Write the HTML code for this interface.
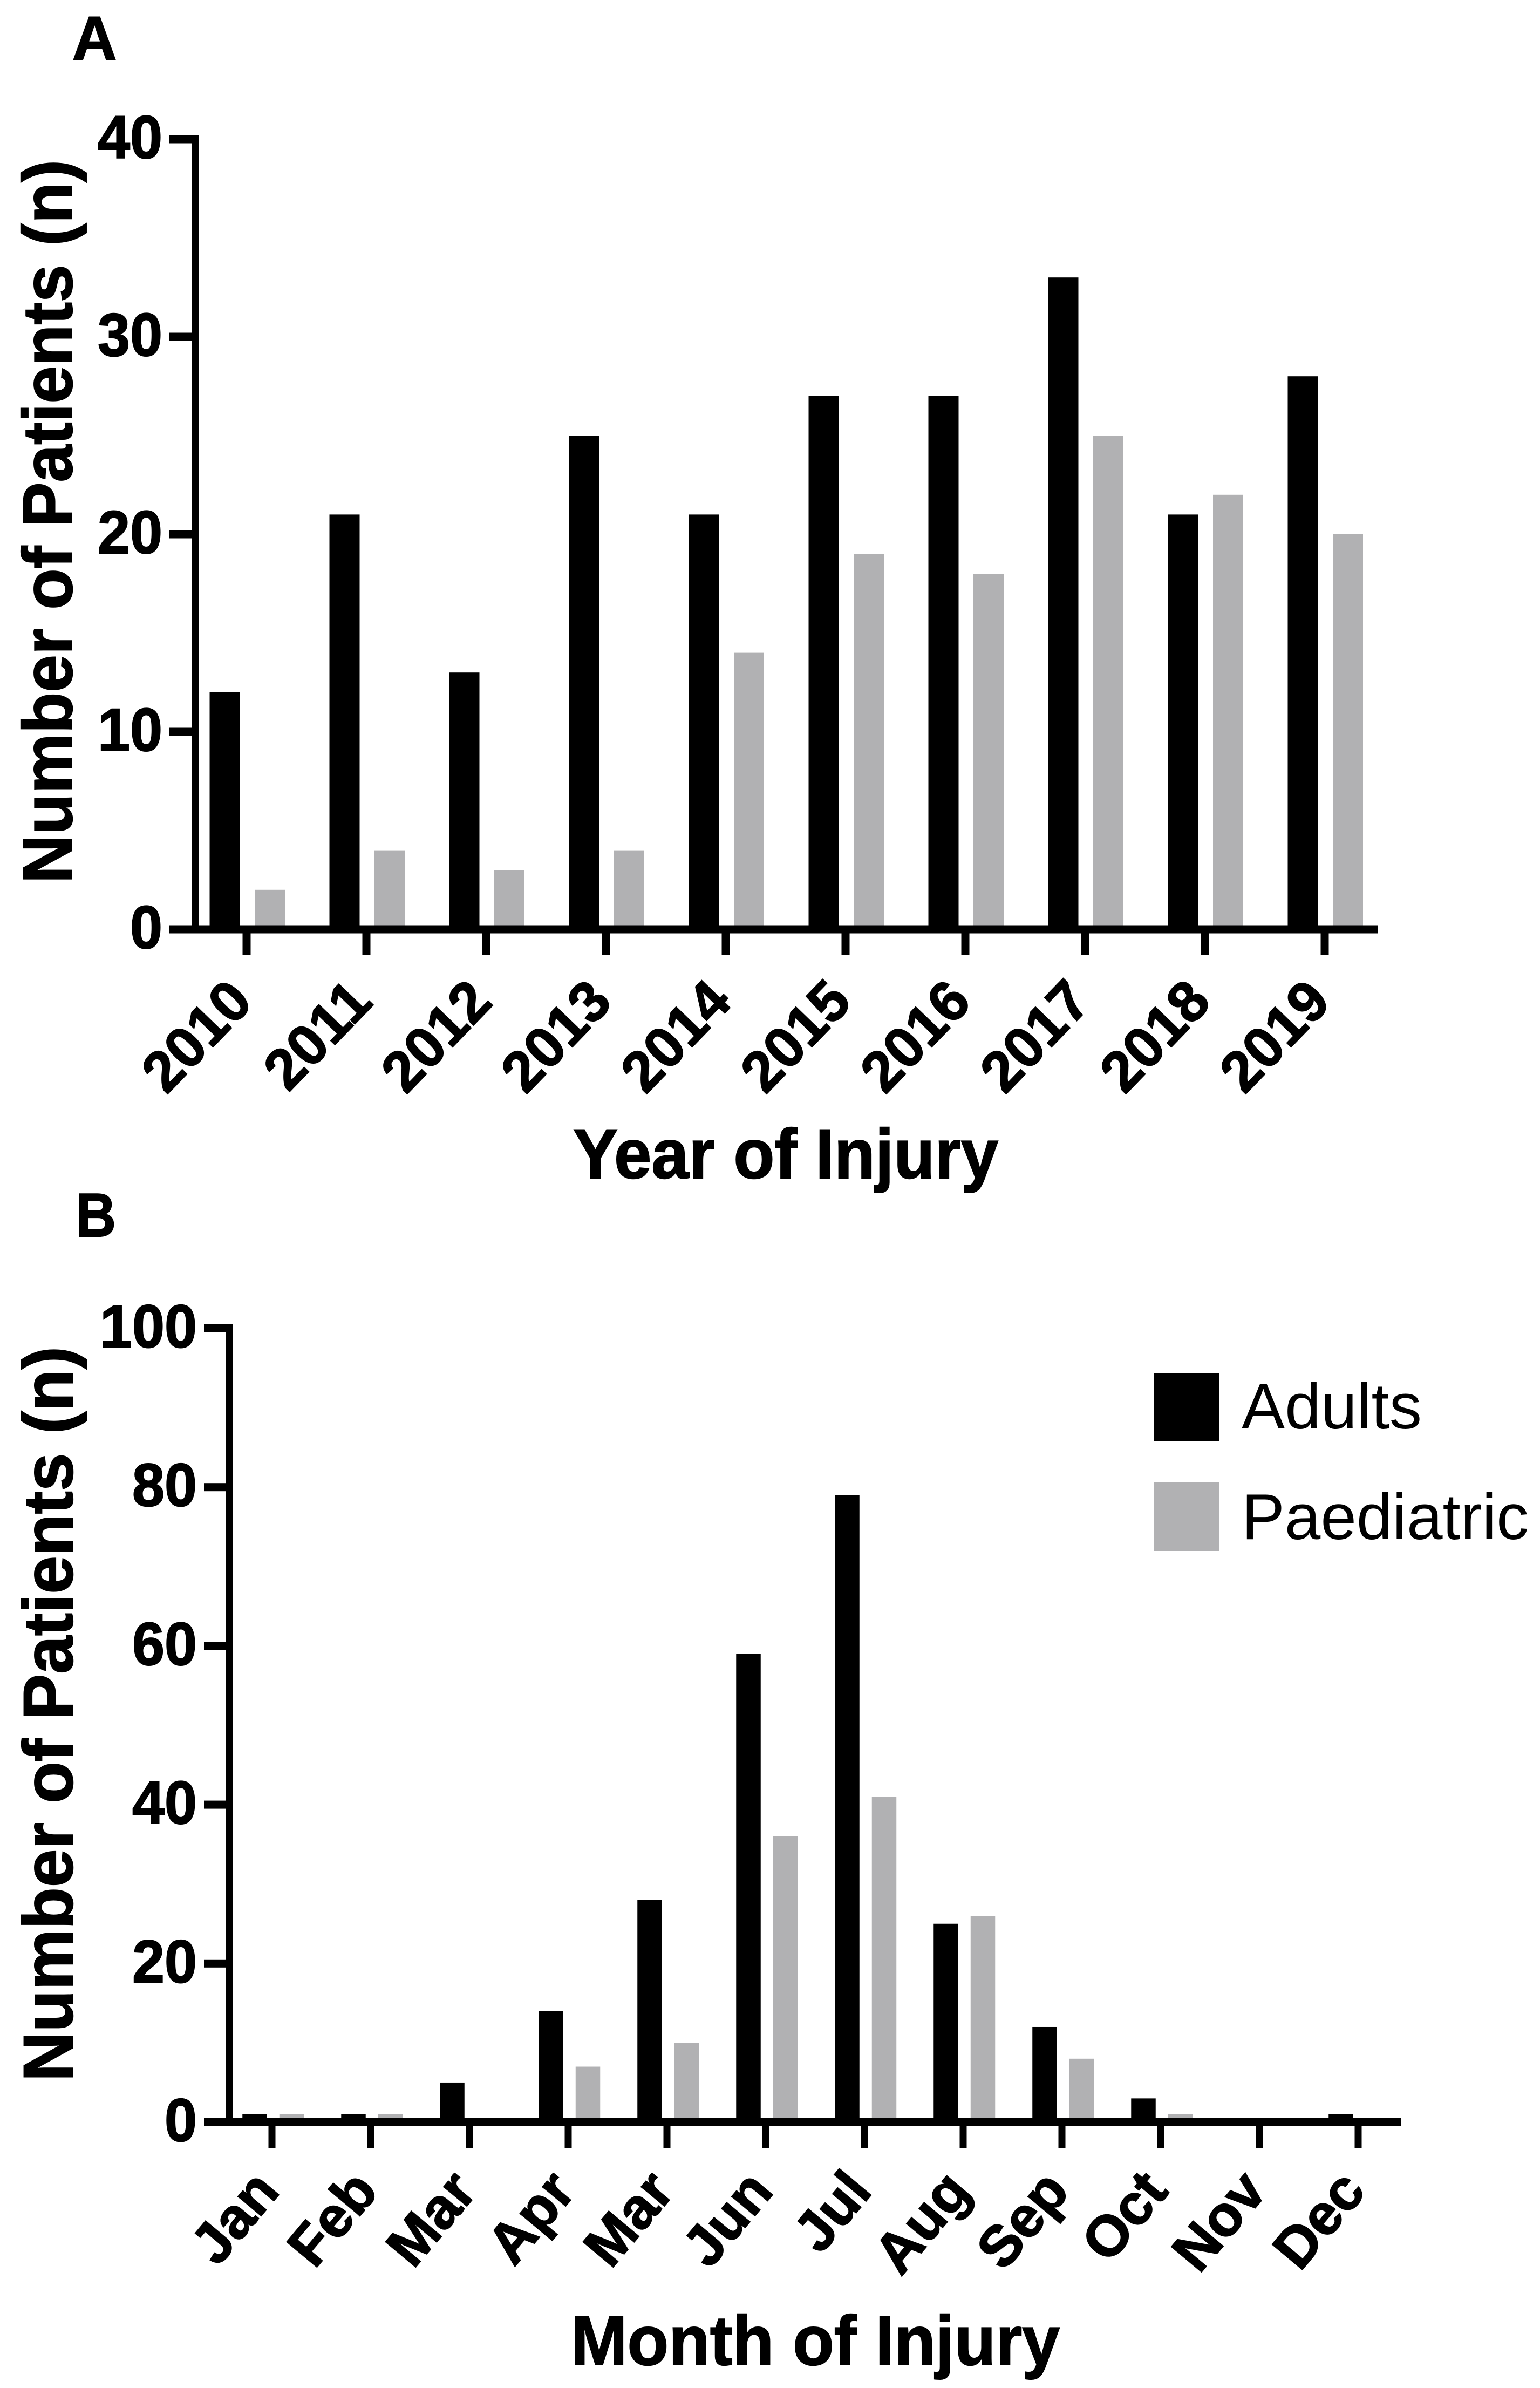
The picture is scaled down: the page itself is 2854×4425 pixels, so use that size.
<!DOCTYPE html>
<html lang="en">
<head>
<meta charset="utf-8">
<title>Patients by year and month of injury</title>
<style>
html,body{margin:0;padding:0;background:#fff;}
svg{display:block;}
text{font-family:"Liberation Sans",Arial,sans-serif;fill:#000;}
.b,text[font-weight="700"]{font-weight:700;stroke:#000;stroke-width:2px;}
</style>
</head>
<body>
<svg id="fig" xmlns="http://www.w3.org/2000/svg" width="2854" height="4425" viewBox="0 0 2854 4425">
  <rect x="0" y="0" width="2854" height="4425" fill="#ffffff"/>
  <text class="b" x="134" y="110" font-size="114">A</text>
  <text class="b" x="141" y="2291" font-size="114" textLength="74" lengthAdjust="spacingAndGlyphs">B</text>
  <g id="panelA"></g>
  <g id="panelB"></g>
  <text class="b" transform="translate(133,1637) rotate(-90)" font-size="130" textLength="1341" lengthAdjust="spacingAndGlyphs">Number of Patients (n)</text>
  <text class="b" x="1062" y="2183" font-size="130" textLength="788" lengthAdjust="spacingAndGlyphs">Year of Injury</text>
  <text class="b" transform="translate(134,3857) rotate(-90)" font-size="130" textLength="1362" lengthAdjust="spacingAndGlyphs">Number of Patients (n)</text>
  <text class="b" x="1058" y="4382" font-size="130" textLength="906" lengthAdjust="spacingAndGlyphs">Month of Injury</text>
  <g>
    <rect x="2138" y="2544" width="121" height="127" fill="#000000"/>
    <text x="2301" y="2647" font-size="120" textLength="334" lengthAdjust="spacingAndGlyphs">Adults</text>
    <rect x="2138" y="2747" width="121" height="127" fill="#b1b1b3"/>
    <text x="2301" y="2852" font-size="120" textLength="532" lengthAdjust="spacingAndGlyphs">Paediatric</text>
  </g>
</svg>
<script>
var yearCategories = ['2010','2011','2012','2013','2014','2015','2016','2017','2018','2019'];
var yearAdults = [12,21,13,25,21,27,27,33,21,28];
var yearPaediatric = [2,4,3,4,14,19,18,25,22,20];
var yearTicks = [0,10,20,30,40];

var monthCategories = ['Jan','Feb','Mar','Apr','Mar','Jun','Jul','Aug','Sep','Oct','Nov','Dec'];
var monthAdults = [1,1,5,14,28,59,79,25,12,3,0,1];
var monthPaediatric = [1,1,0,7,10,36,41,26,8,1,0,0];
var monthTicks = [0,20,40,60,80,100];

var NS = 'http://www.w3.org/2000/svg';

function shape(parent, tag, attrs) {
  var el = document.createElementNS(NS, tag);
  for (var k in attrs) { el.setAttribute(k, attrs[k]); }
  parent.appendChild(el);
  return el;
}

function drawPanel(group, cfg) {
  function xScale(i) { return cfg.x0 + cfg.xStep * i; }
  function yScale(v) { return cfg.yZero - (v - 0) * (cfg.yZero - cfg.yTop) / cfg.yMax; }

  cfg.categories.forEach(function (cat, i) {
    var a = cfg.adults[i];
    var p = cfg.paediatric[i];
    if (a > 0) {
      var ra = shape(group, 'rect', {x: xScale(i) + cfg.offA - cfg.barW / 2, y: yScale(a), width: cfg.barW, height: cfg.yZero - yScale(a), fill: '#000000'});
      
      
    }
    if (p > 0) {
      var rp = shape(group, 'rect', {x: xScale(i) + cfg.offP - cfg.barW / 2, y: yScale(p), width: cfg.barW, height: cfg.yZero - yScale(p), fill: '#b1b1b3'});
      
      
    }
  });

  var yAxis = shape(group, 'rect', {x: cfg.axisX, y: yScale(cfg.yMax) - 7.5, width: 13, height: cfg.yZero - yScale(cfg.yMax) + 15, fill: '#000000'});
  
  

  var xAxis = shape(group, 'rect', {x: cfg.axisLeft, y: cfg.yZero - 7.5, width: cfg.axisRight - cfg.axisLeft, height: 15, fill: '#000000'});
  
  

  cfg.ticks.forEach(function (t) {
    var mark = shape(group, 'rect', {x: cfg.axisLeft, y: yScale(t) - 7.5, width: cfg.axisX - cfg.axisLeft + 13, height: 15, fill: '#000000'});
    
    
    var label = String(t);
    var lab = shape(group, 'text', {x: cfg.axisLeft - 13, y: yScale(t) + 35, 'font-size': 112, 'font-weight': 700, 'text-anchor': 'end', textLength: label.length * 60, lengthAdjust: 'spacingAndGlyphs'});
    lab.textContent = label;
    
    
  });

  cfg.categories.forEach(function (cat, i) {
    var mark = shape(group, 'rect', {x: xScale(i) - cfg.tickW / 2, y: cfg.yZero, width: cfg.tickW, height: cfg.tickBottom - cfg.yZero, fill: '#000000'});
    
    
    var lx = xScale(i) + cfg.labelDx;
    var ly = cfg.labelY;
    var lab = shape(group, 'text', {transform: 'translate(' + lx + ',' + ly + ') rotate(' + cfg.labelAngle + ')', 'font-size': cfg.labelSize, 'font-weight': 700, 'text-anchor': 'end'});
    lab.textContent = cat;
    
    
  });
}

drawPanel(document.getElementById('panelA'), {
  categories: yearCategories, adults: yearAdults, paediatric: yearPaediatric, ticks: yearTicks,
  yMax: 40, yZero: 1722, yTop: 258,
  x0: 457, xStep: 222, barW: 56, offA: -40.5, offP: 43,
  axisX: 355, axisLeft: 314, axisRight: 2553,
  tickW: 15, tickBottom: 1770,
  labelDx: 15, labelY: 1860, labelAngle: -46, labelSize: 106
});

drawPanel(document.getElementById('panelB'), {
  categories: monthCategories, adults: monthAdults, paediatric: monthPaediatric, ticks: monthTicks,
  yMax: 100, yZero: 3932.5, yTop: 2461.5,
  x0: 504, xStep: 183, barW: 45.5, offA: -32, offP: 36.5,
  axisX: 419, axisLeft: 378, axisRight: 2597,
  tickW: 13, tickBottom: 3981,
  labelDx: 17, labelY: 4062, labelAngle: -50, labelSize: 106
});
</script>
</body>
</html>
